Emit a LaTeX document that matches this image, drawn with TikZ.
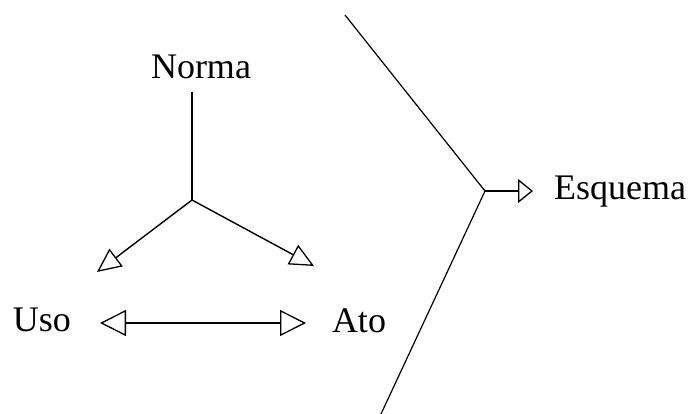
\documentclass[tikz,border=0pt]{standalone}
\usepackage{fontspec}
\setmainfont{Liberation Serif}
\usetikzlibrary{arrows.meta}
\begin{document}
\begin{tikzpicture}[x=1pt,y=-1pt,
  lbl/.style={font=\fontsize{36}{42}\selectfont, anchor=base, inner sep=0pt},
  ln/.style={line width=1.4pt, black}]
\useasboundingbox (0,0) rectangle (689,414);
% labels
\node[lbl] (norma) at (201,79) {Norma};
\node[lbl] (uso) at (42,332) {Uso};
\node[lbl] (ato) at (359,333) {Ato};
\node[lbl, anchor=base west] (esq) at (554,200) {Esquema};
% junction points
\coordinate (ntop) at (192,92);
\coordinate (j1) at (192,200);
\coordinate (tl) at (97,272);
\coordinate (tr) at (314,266);
\coordinate (dl) at (100,323);
\coordinate (dr) at (306,323);
\coordinate (top) at (345,15);
\coordinate (j2) at (485,191);
\coordinate (bot) at (381,414);
\coordinate (et) at (533,191);
% connectors
\draw[ln] (ntop) -- (j1);
\draw[ln, -{Triangle[open, length=24pt, width=22pt, line width=1.3pt]}] (j1) -- (tl);
\draw[ln, -{Triangle[open, length=24pt, width=22pt, line width=1.3pt]}] (j1) -- (tr);
\draw[ln, {Triangle[open, length=26pt, width=26pt, line width=1.3pt]}-{Triangle[open, length=26pt, width=26pt, line width=1.3pt]}] (dl) -- (dr);
\draw[line width=1.2pt] (top) -- (j2) -- (bot);
\draw[ln, -{Triangle[open, length=15pt, width=24pt, line width=1.3pt]}] (j2) -- (et);
\end{tikzpicture}
\end{document}
